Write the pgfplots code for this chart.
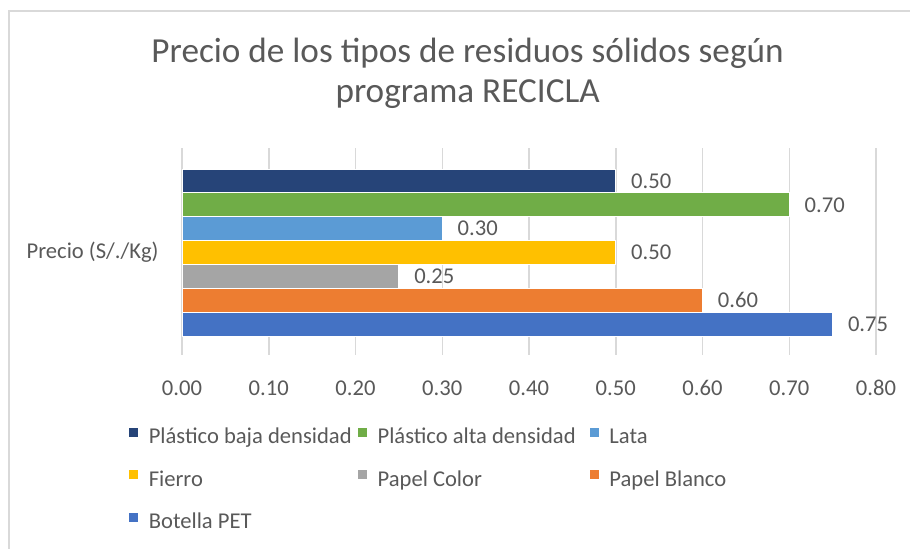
\documentclass[border=0pt]{standalone}
\usepackage{pgfplots}
\pgfplotsset{compat=1.18}
\usepackage{fontspec}
\setmainfont{Carlito}
\definecolor{txt}{HTML}{595959}
\definecolor{grd}{HTML}{D9D9D9}
\definecolor{cBaja}{HTML}{264478}
\definecolor{cAlta}{HTML}{70AD47}
\definecolor{cLata}{HTML}{5B9BD5}
\definecolor{cFierro}{HTML}{FFC000}
\definecolor{cColor}{HTML}{A5A5A5}
\definecolor{cBlanco}{HTML}{ED7D31}
\definecolor{cPET}{HTML}{4472C4}
\newcommand{\lbl}{\fontsize{11.3}{13}\selectfont}
\begin{document}
\begin{tikzpicture}
\path[use as bounding box] (0,0) rectangle (455pt,-274.5pt);
\draw[grd, line width=0.75pt] (4.5pt,-290pt) -- (4.5pt,-5.5pt) -- (470pt,-5.5pt);
\node[anchor=base, txt, font=\fontsize{17.6}{20}\selectfont, inner sep=0pt] at (233.8pt,-31.5pt) {Precio de los tipos de residuos sólidos según};
\node[anchor=base, txt, font=\fontsize{17.6}{20}\selectfont, inner sep=0pt] at (233.8pt,-51.5pt) {programa RECICLA};
\begin{axis}[
  at={(91pt,-177.5pt)}, anchor=south west,
  width=347pt, height=103.5pt, scale only axis,
  xbar, bar width=1, bar shift=0pt,
  xmin=0, xmax=0.8, ymin=-4.3, ymax=4.38,
  xtick={0,0.1,0.2,0.3,0.4,0.5,0.6,0.7,0.8},
  ytick={0}, yticklabels={Precio (S/./Kg)},
  xticklabel={\pgfmathprintnumber[fixed,zerofill,precision=2,assume math mode=true]{\tick}},
  xticklabel style={font=\lbl, text=txt, inner sep=0pt, anchor=north, yshift=-12.5pt},
  yticklabel style={font=\lbl, text=txt, inner sep=0pt, anchor=east, xshift=-11.5pt},
  major tick length=0pt,
  axis line style={draw=none},
  xmajorgrids, major grid style={draw=grd, line width=0.75pt},
  clip=false,
  point meta=x,
  nodes near coords={\pgfmathprintnumber[fixed,zerofill,precision=2,assume math mode=true]{\pgfplotspointmeta}},
  every node near coord/.append style={anchor=west, inner sep=0pt, xshift=7.5pt, font=\lbl, text=txt},
  legend image code/.code={\fill[#1] (0pt,0.5pt) rectangle (5pt,5.5pt);},
  legend columns=3,
  legend style={draw=none, fill=none, inner sep=0pt, outer sep=0pt,
    anchor=north west, at={(-0.0778,-0.3478)},
    column sep=5pt, row sep=10.25pt,
    nodes={inner sep=0pt, text height=8pt, text depth=2.5pt, font=\lbl, text=txt}},
]
\addplot[fill=cBaja, draw=white, line width=0.4pt] coordinates {(0.50,3)};
\addlegendentry{\makebox[99pt][l]{Plástico baja densidad}}
\addplot[fill=cAlta, draw=white, line width=0.4pt] coordinates {(0.70,2)};
\addlegendentry{\makebox[100.5pt][l]{Plástico alta densidad}}
\addplot[fill=cLata, draw=white, line width=0.4pt] coordinates {(0.30,1)};
\addlegendentry{\makebox[60pt][l]{Lata}}
\addplot[fill=cFierro, draw=white, line width=0.4pt] coordinates {(0.50,0)};
\addlegendentry{\makebox[99pt][l]{Fierro}}
\addplot[fill=cColor, draw=white, line width=0.4pt] coordinates {(0.25,-1)};
\addlegendentry{\makebox[100.5pt][l]{Papel Color}}
\addplot[fill=cBlanco, draw=white, line width=0.4pt] coordinates {(0.60,-2)};
\addlegendentry{\makebox[60pt][l]{Papel Blanco}}
\addplot[fill=cPET, draw=white, line width=0.4pt] coordinates {(0.75,-3)};
\addlegendentry{\makebox[99pt][l]{Botella PET}}
\end{axis}
\end{tikzpicture}
\end{document}
